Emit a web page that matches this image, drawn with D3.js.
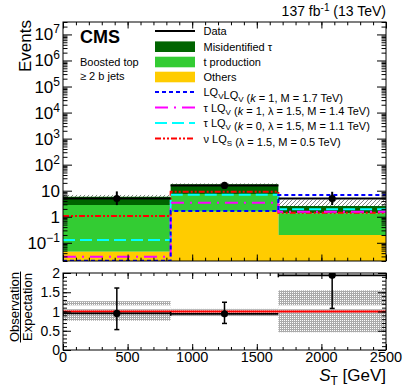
<!DOCTYPE html>
<html>
<head>
<meta charset="utf-8">
<script src="https://cdn.jsdelivr.net/npm/d3@7"></script>
<style>
body { margin: 0; background: #fff; }
svg { display: block; }
text { font-family: "Liberation Sans", Arial, sans-serif; fill: #000; }
</style>
</head>
<body>
<div id="chart"></div>
<script>
// S_T bins (GeV)
var binEdges = [0, 833.3, 1666.7, 2500];

// stacked backgrounds, bottom to top
var others = [0.045, 1.56, 0.20];
var tProd = [2.77, 5.88, 1.15];
var misId = [3.05, 10.1, 1.22];

// background uncertainty (hatched)
var expLo = [4.5, 15.4, 1.2];
var expHi = [6.9, 19.1, 4.6];

// observed
var obs = [5, 16, 5];
var obsLo = [2.8, 12.1, 2.8];
var obsHi = [9.4, 21.7, 9.1];

// signal hypotheses
var sigLQLQ = [0.0205, 1.66, 6.8];
var sigTauK1 = [0.029, 3.45, 1.56];
var sigTauK0 = [0.128, 7.0, 1.92];
var sigNu = [1.06, 9.1, 1.43];

// ratio panel
var ratio = [0.95, 0.94, 1.94];
var ratioLo = [0.53, 0.69, 1.08];
var ratioHi = [1.61, 1.24, 2.6];
var bandLo = [0.76, 0.88, 0.46];
var bandHi = [1.27, 1.07, 1.55];
var bandGap = [1.06, 1.16];

var xTicks = [0, 500, 1000, 1500, 2000, 2500];
var ratioTicks = [0, 0.5, 1, 1.5, 2];
var logExp = [-1, 0, 1, 2, 3, 4, 5, 6, 7];

var W = 407, H = 392;
var left = 63, right = 386, top1 = 22, bot1 = 261, top2 = 273, bot2 = 350;

var svg = d3.select("#chart").append("svg")
	.attr("width", W)
	.attr("height", H);

var x = d3.scaleLinear().domain([0, 2500]).range([left, right]);
var y = d3.scaleLog().domain([0.02, 3e7]).range([bot1, top1]);
var yr = d3.scaleLinear().domain([0, 2]).range([bot2, top2]);

var defs = svg.append("defs");
defs.append("clipPath").attr("id", "clipTop")
	.append("rect").attr("x", left).attr("y", top1).attr("width", right - left).attr("height", bot1 - top1);
defs.append("clipPath").attr("id", "clipBot")
	.append("rect").attr("x", left).attr("y", top2).attr("width", right - left).attr("height", bot2 - top2);

var hatch = defs.append("pattern").attr("id", "hatch")
	.attr("patternUnits", "userSpaceOnUse").attr("width", 4).attr("height", 4);
hatch.append("path").attr("d", "M-1,1 l2,-2 M0,4 l4,-4 M3,5 l2,-2")
	.attr("stroke", "#666").attr("stroke-width", 0.8);

var dots = defs.append("pattern").attr("id", "dots")
	.attr("patternUnits", "userSpaceOnUse").attr("width", 2).attr("height", 2);
dots.append("rect").attr("width", 2).attr("height", 2).attr("fill", "#ababab");
dots.append("rect").attr("width", 1).attr("height", 1).attr("fill", "#fff");

// helper: step points over the bins
function steps(vals) {
	var pts = vals.map(function(v, i) { return [binEdges[i], v]; });
	pts.push([binEdges[binEdges.length - 1], vals[vals.length - 1]]);
	return pts;
}

// ---------- upper panel ----------
var up = svg.append("g").attr("clip-path", "url(#clipTop)");

// uncertainty band behind the stack
up.selectAll("rect.unc")
	.data(expLo)
	.enter()
	.append("rect")
	.attr("class", "unc")
	.attr("x", function(d, i) { return x(binEdges[i]); })
	.attr("width", function(d, i) { return x(binEdges[i + 1]) - x(binEdges[i]); })
	.attr("y", function(d, i) { return y(expHi[i]); })
	.attr("height", function(d, i) { return y(expLo[i]) - y(expHi[i]); })
	.attr("fill", "url(#hatch)");

var rows = others.map(function(d, i) {
	return { others: others[i], tprod: tProd[i], misid: misId[i] };
});
var stack = d3.stack().keys(["others", "tprod", "misid"])(rows);
var fills = { others: "#ffcc00", tprod: "#33cc33", misid: "#006400" };

var area = d3.area()
	.curve(d3.curveStepAfter)
	.x(function(d) { return x(d[0]); })
	.y0(function(d) { return y(Math.max(d[1], 0.001)); })
	.y1(function(d) { return y(d[2]); });

stack.slice().reverse().forEach(function(layer) {
	var pts = layer.map(function(d, i) { return [binEdges[i], d[0], d[1]]; });
	var last = layer[layer.length - 1];
	pts.push([binEdges[binEdges.length - 1], last[0], last[1]]);
	up.append("path")
		.attr("d", area(pts))
		.attr("fill", fills[layer.key]);
});

var stepLine = d3.line()
	.curve(d3.curveStepAfter)
	.x(function(d) { return x(d[0]); })
	.y(function(d) { return y(d[1]); });

var signals = [
	{ vals: sigLQLQ, color: "#0000ff", dash: "4,3" },
	{ vals: sigTauK1, color: "#ff00ff", dash: "13,6,2,6" },
	{ vals: sigTauK0, color: "#00ffff", dash: "12,5" },
	{ vals: sigNu, color: "#ff0000", dash: "6,2,2,2,2,2" }
];

// draw in reverse so blue ends on top
signals.slice().reverse().forEach(function(s) {
	up.append("path")
		.attr("d", stepLine(steps(s.vals)))
		.attr("fill", "none")
		.attr("stroke", s.color)
		.attr("stroke-width", 2)
		.attr("stroke-dasharray", s.dash);
});

// data points
var mids = obs.map(function(d, i) { return (binEdges[i] + binEdges[i + 1]) / 2; });
var pts = up.append("g");
pts.selectAll("line.xe").data(obs).enter().append("line")
	.attr("x1", function(d, i) { return x(binEdges[i]); })
	.attr("x2", function(d, i) { return x(binEdges[i + 1]); })
	.attr("y1", function(d) { return y(d); })
	.attr("y2", function(d) { return y(d); })
	.attr("stroke", "#000").attr("stroke-width", 2);
pts.selectAll("line.ye").data(obs).enter().append("line")
	.attr("x1", function(d, i) { return x(mids[i]); })
	.attr("x2", function(d, i) { return x(mids[i]); })
	.attr("y1", function(d, i) { return y(obsLo[i]); })
	.attr("y2", function(d, i) { return y(obsHi[i]); })
	.attr("stroke", "#000").attr("stroke-width", 2);
pts.selectAll("circle").data(obs).enter().append("circle")
	.attr("cx", function(d, i) { return x(mids[i]); })
	.attr("cy", function(d) { return y(d); })
	.attr("r", 3.6)
	.attr("fill", "#000");

// ticks upper panel
function logTickVals() {
	var v = [];
	for (var e = -2; e <= 7; e++) {
		for (var m = 1; m <= 9; m++) {
			var t = m * Math.pow(10, e);
			if (t >= 0.02 && t <= 3e7) v.push(t);
		}
	}
	return v;
}
var allLog = logTickVals();
var majorLog = logExp.map(function(e) { return Math.pow(10, e); });
var minorLog = allLog.filter(function(t) { return majorLog.indexOf(t) < 0; });

function addAxis(gen, tx, ty) {
	var g = svg.append("g").attr("transform", "translate(" + tx + "," + ty + ")").call(gen);
	g.select(".domain").remove();
	g.selectAll("line").attr("stroke", "#000");
	return g;
}

var xMinor = d3.range(0, 2501, 100);
addAxis(d3.axisLeft(y).tickValues(majorLog).tickSize(-9).tickFormat(""), left, 0);
addAxis(d3.axisLeft(y).tickValues(minorLog).tickSize(-4.5).tickFormat(""), left, 0);
addAxis(d3.axisRight(y).tickValues(majorLog).tickSize(-9).tickFormat(""), right, 0);
addAxis(d3.axisRight(y).tickValues(minorLog).tickSize(-4.5).tickFormat(""), right, 0);
addAxis(d3.axisBottom(x).tickValues(xTicks).tickSize(-6.5).tickFormat(""), 0, bot1);
addAxis(d3.axisBottom(x).tickValues(xMinor).tickSize(-3.3).tickFormat(""), 0, bot1);
addAxis(d3.axisTop(x).tickValues(xTicks).tickSize(-6.5).tickFormat(""), 0, top1);
addAxis(d3.axisTop(x).tickValues(xMinor).tickSize(-3.3).tickFormat(""), 0, top1);

svg.append("rect")
	.attr("x", left).attr("y", top1)
	.attr("width", right - left).attr("height", bot1 - top1)
	.attr("fill", "none").attr("stroke", "#000").attr("stroke-width", 1);

// log labels
logExp.forEach(function(e) {
	var t = svg.append("text")
		.attr("x", 60)
		.attr("y", y(Math.pow(10, e)) + 6)
		.attr("text-anchor", "end")
		.attr("font-size", "17px");
	if (e === 0) { t.text("1"); return; }
	if (e === 1) { t.text("10"); return; }
	t.append("tspan").text("10");
	t.append("tspan").attr("dy", -7).attr("font-size", "12px").text(e < 0 ? "\u2212" + (-e) : e);
});

svg.append("text")
	.attr("transform", "translate(31,20) rotate(-90)")
	.attr("text-anchor", "end")
	.attr("font-size", "17px")
	.text("Events");

// top labels
var lumi = svg.append("text")
	.attr("x", 386).attr("y", 16)
	.attr("text-anchor", "end")
	.attr("font-size", "14px");
lumi.append("tspan").text("137 fb");
lumi.append("tspan").attr("dy", -5).attr("font-size", "10px").text("-1");
lumi.append("tspan").attr("dy", 5).text(" (13 TeV)");

svg.append("text")
	.attr("x", 80).attr("y", 43)
	.attr("font-size", "18px")
	.attr("font-weight", "bold")
	.text("CMS");
svg.append("text").attr("x", 80).attr("y", 65.5).attr("font-size", "11px").text("Boosted top");
svg.append("text").attr("x", 80).attr("y", 80).attr("font-size", "11px").text("\u2265 2 b jets");

// legend
var legRows = [31, 46.7, 62, 77, 92, 107.5, 123, 138.5];
var lg = svg.append("g");
var lx0 = 155, lx1 = 195, ltx = 203.5;

lg.append("line").attr("x1", lx0).attr("x2", lx1).attr("y1", legRows[0]).attr("y2", legRows[0])
	.attr("stroke", "#000").attr("stroke-width", 2);
[fills.misid, fills.tprod, fills.others].forEach(function(c, i) {
	lg.append("rect")
		.attr("x", lx0).attr("y", legRows[i + 1] - 5.3)
		.attr("width", lx1 - lx0).attr("height", 10.6)
		.attr("fill", c);
});
signals.forEach(function(s, i) {
	lg.append("line").attr("x1", lx0).attr("x2", lx1)
		.attr("y1", legRows[i + 4]).attr("y2", legRows[i + 4])
		.attr("stroke", s.color).attr("stroke-width", 2).attr("stroke-dasharray", s.dash);
});

function legText(i) {
	return lg.append("text").attr("x", ltx).attr("y", legRows[i] + 4).attr("font-size", "11px");
}
legText(0).text("Data");
legText(1).text("Misidentified \u03c4");
legText(2).text("t production");
legText(3).text("Others");

function sub(t, s) {
	t.append("tspan").attr("dy", 3).attr("font-size", "8px").text(s);
	t.append("tspan").attr("dy", -3).text("");
}
var t4 = legText(4);
t4.append("tspan").text("LQ"); sub(t4, "V");
t4.append("tspan").text("LQ"); sub(t4, "V");
t4.append("tspan").text(" (");
t4.append("tspan").attr("font-style", "italic").text("k");
t4.append("tspan").text(" = 1, M = 1.7 TeV)");

var t5 = legText(5);
t5.append("tspan").text("\u03c4 LQ"); sub(t5, "V");
t5.append("tspan").text(" (");
t5.append("tspan").attr("font-style", "italic").text("k");
t5.append("tspan").text(" = 1, \u03bb = 1.5, M = 1.4 TeV)");

var t6 = legText(6);
t6.append("tspan").text("\u03c4 LQ"); sub(t6, "V");
t6.append("tspan").text(" (");
t6.append("tspan").attr("font-style", "italic").text("k");
t6.append("tspan").text(" = 0, \u03bb = 1.5, M = 1.1 TeV)");

var t7 = legText(7);
t7.append("tspan").text("\u03bd LQ"); sub(t7, "S");
t7.append("tspan").text(" (\u03bb = 1.5, M = 0.5 TeV)");

// ---------- ratio panel ----------
var lo = svg.append("g").attr("clip-path", "url(#clipBot)");

lo.selectAll("rect.band").data(bandLo).enter().append("rect")
	.attr("class", "band")
	.attr("x", function(d, i) { return x(binEdges[i]); })
	.attr("width", function(d, i) { return x(binEdges[i + 1]) - x(binEdges[i]); })
	.attr("y", function(d, i) { return yr(bandHi[i]); })
	.attr("height", function(d, i) { return yr(bandLo[i]) - yr(bandHi[i]); })
	.attr("fill", "url(#dots)");

// lighter strip inside the band
lo.selectAll("rect.gap").data(bandLo).enter().append("rect")
	.attr("class", "gap")
	.attr("x", function(d, i) { return x(binEdges[i]); })
	.attr("width", function(d, i) { return x(binEdges[i + 1]) - x(binEdges[i]); })
	.attr("y", function(d, i) { return yr(Math.min(bandGap[1], bandHi[i])); })
	.attr("height", function(d, i) {
		var h = yr(bandGap[0]) - yr(Math.min(bandGap[1], bandHi[i]));
		return Math.max(h, 0);
	})
	.attr("fill", "#fff");

lo.append("line")
	.attr("x1", x(0)).attr("x2", x(2500))
	.attr("y1", yr(1)).attr("y2", yr(1))
	.attr("stroke", "#ff0000").attr("stroke-width", 2);

lo.selectAll("line.rxe").data(ratio).enter().append("line")
	.attr("x1", function(d, i) { return x(binEdges[i]); })
	.attr("x2", function(d, i) { return x(binEdges[i + 1]); })
	.attr("y1", function(d) { return yr(d); })
	.attr("y2", function(d) { return yr(d); })
	.attr("stroke", "#000").attr("stroke-width", 1.8);
lo.selectAll("line.rcap").data(ratio).enter().append("line")
	.attr("x1", function(d, i) { return x(binEdges[i]); })
	.attr("x2", function(d, i) { return x(binEdges[i]); })
	.attr("y1", function(d) { return yr(d) - 2; })
	.attr("y2", function(d) { return yr(d) + 2; })
	.attr("stroke", "#000").attr("stroke-width", 1.5);
lo.selectAll("line.rye").data(ratio).enter().append("line")
	.attr("x1", function(d, i) { return x(mids[i]); })
	.attr("x2", function(d, i) { return x(mids[i]); })
	.attr("y1", function(d, i) { return yr(ratioLo[i]); })
	.attr("y2", function(d, i) { return yr(ratioHi[i]); })
	.attr("stroke", "#000").attr("stroke-width", 1.5);
[ratioLo, ratioHi].forEach(function(arr) {
	lo.selectAll(null).data(arr).enter().append("line")
		.attr("x1", function(d, i) { return x(mids[i]) - 2.5; })
		.attr("x2", function(d, i) { return x(mids[i]) + 2.5; })
		.attr("y1", function(d) { return yr(d); })
		.attr("y2", function(d) { return yr(d); })
		.attr("stroke", "#000").attr("stroke-width", 1.5);
});
lo.selectAll("circle").data(ratio).enter().append("circle")
	.attr("cx", function(d, i) { return x(mids[i]); })
	.attr("cy", function(d) { return yr(d); })
	.attr("r", 3.6)
	.attr("fill", "#000");

var rMinor = d3.range(0, 2.01, 0.1);
addAxis(d3.axisLeft(yr).tickValues(ratioTicks).tickSize(-8).tickFormat(""), left, 0);
addAxis(d3.axisLeft(yr).tickValues(rMinor).tickSize(-4).tickFormat(""), left, 0);
addAxis(d3.axisRight(yr).tickValues(ratioTicks).tickSize(-8).tickFormat(""), right, 0);
addAxis(d3.axisRight(yr).tickValues(rMinor).tickSize(-4).tickFormat(""), right, 0);
addAxis(d3.axisBottom(x).tickValues(xTicks).tickSize(-6).tickFormat(""), 0, bot2);
addAxis(d3.axisBottom(x).tickValues(xMinor).tickSize(-3).tickFormat(""), 0, bot2);
addAxis(d3.axisTop(x).tickValues(xTicks).tickSize(-6).tickFormat(""), 0, top2);
addAxis(d3.axisTop(x).tickValues(xMinor).tickSize(-3).tickFormat(""), 0, top2);

svg.append("rect")
	.attr("x", left).attr("y", top2)
	.attr("width", right - left).attr("height", bot2 - top2)
	.attr("fill", "none").attr("stroke", "#000").attr("stroke-width", 1);

ratioTicks.forEach(function(t) {
	svg.append("text")
		.attr("x", 60).attr("y", yr(t) + 5)
		.attr("text-anchor", "end")
		.attr("font-size", "14px")
		.text(d3.format("~g")(t));
});
xTicks.forEach(function(t) {
	svg.append("text")
		.attr("x", x(t)).attr("y", 362)
		.attr("text-anchor", "middle")
		.attr("font-size", "14.5px")
		.text(t);
});

var xl = svg.append("text")
	.attr("x", 386).attr("y", 381)
	.attr("text-anchor", "end")
	.attr("font-size", "17px");
xl.append("tspan").attr("font-style", "italic").text("S");
xl.append("tspan").attr("dy", 4).attr("font-size", "12px").text("T");
xl.append("tspan").attr("dy", -4).text(" [GeV]");

// ratio y title as fraction
svg.append("text")
	.attr("transform", "translate(18.5,307) rotate(-90)")
	.attr("text-anchor", "middle")
	.attr("font-size", "13px")
	.text("Observation");
svg.append("line")
	.attr("x1", 20.5).attr("x2", 20.5)
	.attr("y1", 271.5).attr("y2", 342.5)
	.attr("stroke", "#000").attr("stroke-width", 1);
svg.append("text")
	.attr("transform", "translate(32,307) rotate(-90)")
	.attr("text-anchor", "middle")
	.attr("font-size", "13px")
	.text("Expectation");
</script>
</body>
</html>
